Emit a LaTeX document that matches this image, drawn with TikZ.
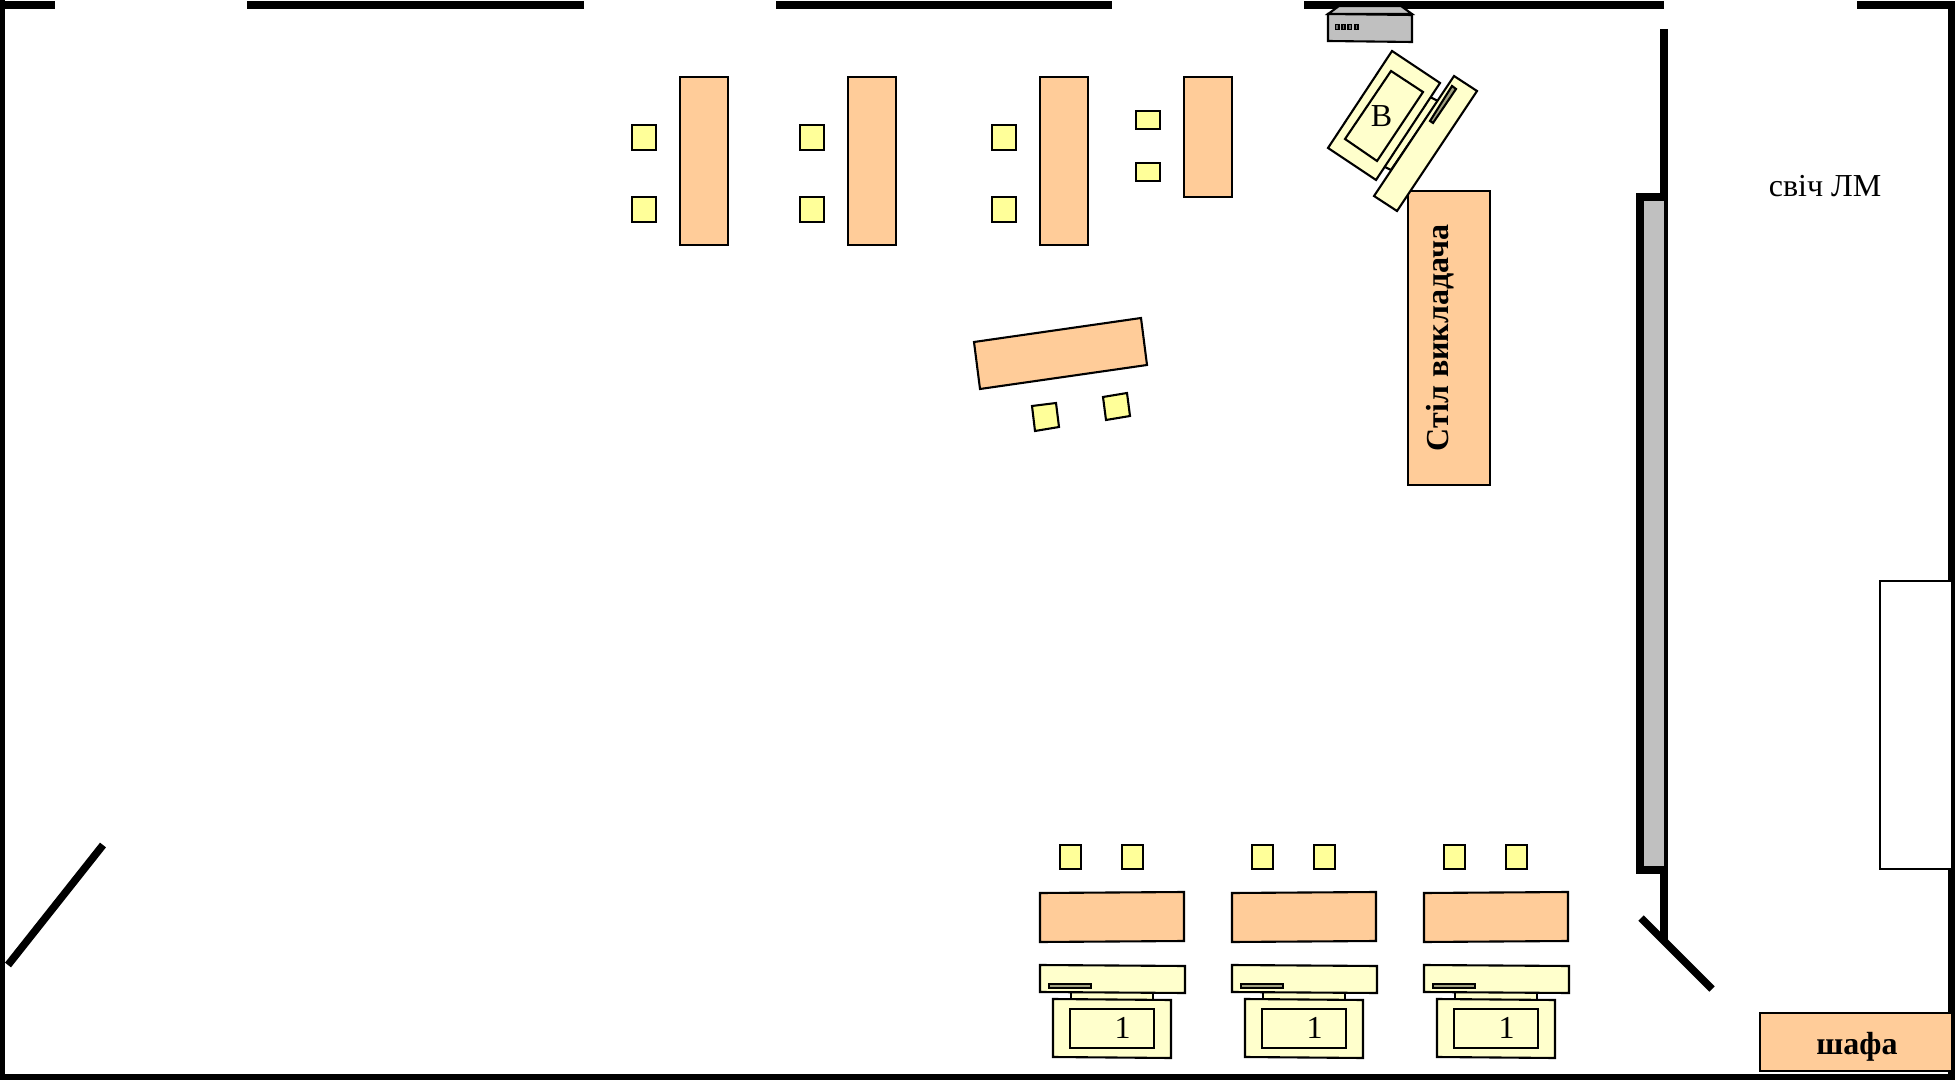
\documentclass[tikz,border=0pt]{standalone}
\usepackage{fontspec}
\setmainfont{Liberation Serif}
\definecolor{desk}{HTML}{FFCC99}
\definecolor{seat}{HTML}{FFFF99}
\definecolor{pc}{HTML}{FFFFCC}
\definecolor{grayb}{HTML}{C0C0C0}
\definecolor{slot}{HTML}{A0A080}
\tikzset{
 wall/.style={line width=3.8pt,line cap=butt},
 obj/.style={draw=black,line width=1.05pt},
 deskbox/.style={obj,fill=desk},
 seatbox/.style={obj,fill=seat},
 pcbox/.style={obj,fill=pc},
 lab/.style={font=\fontsize{16}{18}\selectfont,inner sep=0pt},
 blab/.style={font=\fontsize{16}{18}\selectfont\bfseries,inner sep=0pt},
}
\newcommand{\workplace}[1]{%
 \begin{scope}[shift={(#1,0)}]
 \draw[seatbox] (1060,845) rectangle (1081,869);
 \draw[seatbox] (1122,845) rectangle (1143,869);
 \draw[deskbox] (1040,893) -- (1184,892) -- (1184,941) -- (1040,942) -- cycle;
 \draw[pcbox] (1071,990) rectangle (1153,1002);
 \draw[pcbox] (1040,965) -- (1185,966) -- (1185,993) -- (1040,992) -- cycle;
 \draw[obj,fill=slot] (1049,984) rectangle (1091,988);
 \draw[pcbox] (1053,999) -- (1171,1000) -- (1171,1058) -- (1053,1057) -- cycle;
 \draw[pcbox] (1070,1009) rectangle (1154,1048);
 \node[lab] at (1122.5,1028) {1};
 \end{scope}}
\begin{document}
\begin{tikzpicture}[x=0.5pt,y=-0.5pt]
\useasboundingbox (0,0) rectangle (1955,1080);
\fill[white] (0,0) rectangle (1955,1080);
% walls
\draw[wall] (0,5)--(55,5);
\draw[wall] (247,5)--(584,5);
\draw[wall] (776,5)--(1112,5);
\draw[wall] (1304,5)--(1664,5);
\draw[wall] (1857,5)--(1955,5);
\draw[wall] (1.5,0)--(1.5,1080);
\draw[wall] (0,1078)--(1955,1078);
\draw[wall] (1951.7,1)--(1951.7,1080);
\draw[wall] (1664,29)--(1664,941);
\draw[line width=3.8pt,fill=grayb] (1664,197)--(1640,197)--(1640,870)--(1664,870);
\draw[wall] (1641,918)--(1712,989);
\draw[wall] (103,845)--(8,965);
% board, wardrobe
\draw[obj,fill=white] (1880,581) rectangle (1952,869);
\draw[deskbox] (1760,1013) rectangle (1952,1071);
\node[blab] (shafa) at (1857,1047) {шафа};
\node[lab] (lm) at (1825,186) {свіч ЛМ};
% teacher table
\draw[deskbox] (1408,191) rectangle (1490,485);
% top desks
\draw[deskbox] (680,77) rectangle (728,245);
\draw[seatbox] (632,125) rectangle (656,150);
\draw[seatbox] (632,197) rectangle (656,222);
\draw[deskbox] (848,77) rectangle (896,245);
\draw[seatbox] (800,125) rectangle (824,150);
\draw[seatbox] (800,197) rectangle (824,222);
\draw[deskbox] (1040,77) rectangle (1088,245);
\draw[seatbox] (992,125) rectangle (1016,150);
\draw[seatbox] (992,197) rectangle (1016,222);
\draw[deskbox] (1184,77) rectangle (1232,197);
\draw[seatbox] (1136,111) rectangle (1160,129);
\draw[seatbox] (1136,163) rectangle (1160,181);
% rotated desk
\draw[deskbox] (974,342)--(1141,318)--(1147,365)--(980,389)--cycle;
\draw[seatbox] (1032,406)--(1056,403)--(1059,427)--(1035,431)--cycle;
\draw[seatbox] (1103,397)--(1127,393)--(1130,416)--(1106,420)--cycle;
% switch
\draw[obj,fill=grayb] (1328,14)--(1339,6)--(1401,6)--(1412,14)--cycle;
\draw[obj,fill=grayb] (1328,14)--(1412,15)--(1412,42)--(1328,41)--cycle;
\foreach \i in {0,1,2,3} \draw[line width=0.9pt,fill=black!55] (1335.5+\i*6.4,24.5) rectangle +(3.2,5);
% teacher PC
\draw[pcbox] (1428,96)--(1438,101)--(1391,170)--(1381,165)--cycle;
\draw[pcbox] (1392,51)--(1440,83)--(1376,180)--(1328,148)--cycle;
\draw[pcbox] (1391,71)--(1423,92)--(1377,161)--(1345,139)--cycle;
\draw[pcbox] (1454,76)--(1477,91)--(1397,211)--(1374,196)--cycle;
\draw[obj,fill=slot] (1452,86)--(1456,89)--(1433,123)--(1430,121)--cycle;
\node[lab] (bb) at (1381.5,116) {В};
\node[rotate=90,blab] (teach) at (1440,338) {Стіл викладача};
\workplace{0}
\workplace{192}
\workplace{384}
\end{tikzpicture}
\end{document}
